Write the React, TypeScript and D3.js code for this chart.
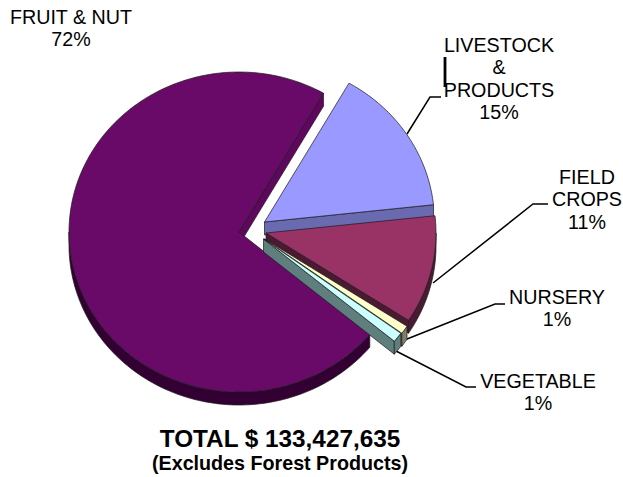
import React from "react";
import * as d3 from "d3";

const categories = ["LIVESTOCK & PRODUCTS", "FIELD CROPS", "NURSERY", "VEGETABLE", "FRUIT & NUT"];
const values = [15, 10.9, 0.85, 1.0, 72.25];
const topColors = ["#9999ff", "#993366", "#ffffcc", "#ccffff", "#690a69"];
const wallColors = ["#6a6ab0", "#4c1933", "#808066", "#5f7f7f", "#330033"];
const cutColors = ["#6a6ab0", "#4c1933", "#808066", "#5f7f7f", "#5f065f"];
const apexX = [264.5, 266, 264.5, 263.5, 239];
const apexY = [222, 233, 239, 239, 232];
const drawOrder = [4, 0, 1, 2, 3];
const rx = 170, ry = 160, depth = 13;

const pie = d3.pie<number>().sort(null)
  .startAngle((29.8 * Math.PI) / 180)
  .endAngle(((29.8 + 360) * Math.PI) / 180);
const arcs = pie(values);

const px = d3.scaleLinear().domain([-1, 1]).range([-rx, rx]);
const py = d3.scaleLinear().domain([-1, 1]).range([-ry, ry]);
const pt = (i: number, a: number, dy = 0): [number, number] => [
  apexX[i] + px(Math.sin(a)),
  apexY[i] + py(-Math.cos(a)) + dy,
];
const arcPoints = (i: number, a0: number, a1: number, dy = 0) => {
  const n = Math.max(2, Math.ceil(Math.abs(a1 - a0) / 0.02));
  return d3.range(n + 1).map((k) => pt(i, a0 + ((a1 - a0) * k) / n, dy));
};
const line = d3.line();

function topPath(i: number) {
  const a = arcs[i];
  return line([[apexX[i], apexY[i]], ...arcPoints(i, a.startAngle, a.endAngle)])! + "Z";
}
function outerWall(i: number) {
  const a = arcs[i];
  const lo = Math.max(a.startAngle, Math.PI / 2);
  const hi = Math.min(a.endAngle, (3 * Math.PI) / 2);
  if (hi <= lo) return null;
  return line([...arcPoints(i, lo, hi), ...arcPoints(i, hi, lo, depth)])! + "Z";
}
function cutWall(i: number, ang: number) {
  const p = pt(i, ang);
  const q = pt(i, ang, depth);
  return line([[apexX[i], apexY[i]], p, q, [apexX[i], apexY[i] + depth]])! + "Z";
}

const leaders: [number, number][][] = [
  [[407, 134], [430, 97], [441, 97]],
  [[433, 283], [533, 204], [548, 204]],
  [[402, 341], [495, 304], [505, 304]],
  [[396, 351], [466, 387], [476, 387]],
];
const thickLeader: [number, number][] = [[445, 57], [445, 87]];

const labels: { lines: string[]; x: number; y: number }[] = [
  { lines: ["FRUIT & NUT", "72%"], x: 71, y: 24 },
  { lines: ["LIVESTOCK", "&", "PRODUCTS", "15%"], x: 499, y: 52 },
  { lines: ["FIELD", "CROPS", "11%"], x: 587, y: 184 },
  { lines: ["NURSERY", "1%"], x: 557, y: 304 },
  { lines: ["VEGETABLE", "1%"], x: 538, y: 388 },
];

export default function App() {
  return (
    <svg width={623} height={477} style={{ position: "absolute", left: 0, top: 0, background: "#fff" }}
      fontFamily="'Liberation Sans', Arial, sans-serif">
      {leaders.map((l, i) => (
        <path key={i} d={line(l)!} fill="none" stroke="#000" strokeWidth={1.5} />
      ))}
      <path d={line(thickLeader)!} stroke="#000" strokeWidth={2.8} fill="none" />
      {drawOrder.map((i) => {
        const a = arcs[i];
        const w = outerWall(i);
        return (
          <g key={categories[i]} stroke="#1a1a1a" strokeWidth={0.7} strokeLinejoin="round">
            <path d={cutWall(i, a.endAngle)} fill={cutColors[i]} />
            {w && <path d={w} fill={wallColors[i]} />}
            <path d={topPath(i)} fill={topColors[i]} />
          </g>
        );
      })}
      {labels.map((l) => (
        <text key={l.lines[0]} x={l.x} y={l.y} textAnchor="middle" fontSize={19.7} fill="#000">
          {l.lines.map((t, k) => (
            <tspan key={k} x={l.x} dy={k === 0 ? 0 : 22.3}>{t}</tspan>
          ))}
        </text>
      ))}
      <text x={280} y={447} textAnchor="middle" fontSize={24.3} fontWeight="bold">TOTAL $ 133,427,635</text>
      <text x={280} y={470} textAnchor="middle" fontSize={19.7} fontWeight="bold">(Excludes Forest Products)</text>
    </svg>
  );
}
